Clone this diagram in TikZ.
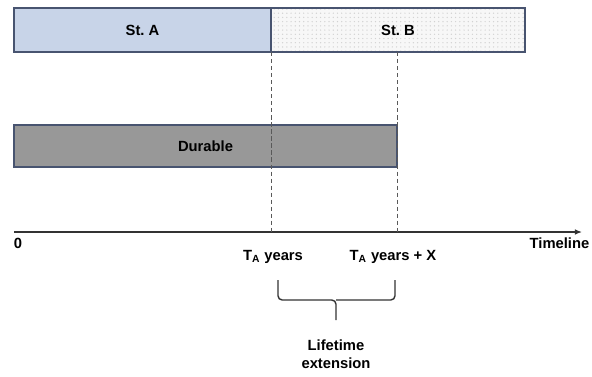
\documentclass[tikz,border=0pt]{standalone}
\usepackage{fontspec}
\setmainfont{Liberation Sans}
\usetikzlibrary{math, patterns, arrows.meta}
\definecolor{stablue}{RGB}{200,212,232}
\definecolor{edgeblue}{RGB}{72,84,112}
\definecolor{durgray}{RGB}{152,152,152}

\begin{document}
\begin{tikzpicture}[x=0.025cm, y=-0.025cm, font=\bfseries\fontsize{10.5}{12.5}\selectfont]
\tikzmath{
\xa=14;
\xt=271;
\xx=397;
\xb=525;
\xe=582;
\ya=8;
\yb=52;
\yd=125;
\ye=167;
\yax=232;
\yl=257;
}
\useasboundingbox (0,0) rectangle (592,376);
%stages
\draw[edgeblue, line width=1.1pt, fill=stablue] (\xa,\ya) rectangle (\xt,\yb);
\fill[gray!6] (\xt,\ya) rectangle (\xb,\yb);
\draw[edgeblue, line width=1.1pt, pattern=dots, pattern color=gray!35] (\xt,\ya) rectangle (\xb,\yb);
\node (sta) at ({(\xa+\xt)/2},{(\ya+\yb)/2}) {St.\ A};
\node (stb) at ({(\xt+\xb)/2},{(\ya+\yb)/2}) {St.\ B};
%durable
\draw[edgeblue, line width=1.1pt, fill=durgray] (\xa,\yd) rectangle (\xx,\ye);
\node (dur) at ({(\xa+\xx)/2},{(\yd+\ye)/2}) {Durable};

%axis
\coordinate (o) at (\xa,\yax);
\coordinate (end) at (\xe,\yax);
\draw[-{Latex[length=5pt,width=4pt]}, line width=0.9pt, black!80] (o) -- (end);
\node[anchor=north west] (zero) at (\xa-5,\yax+1) {0};
\node[anchor=north east, inner sep=1pt] (tl) at (591,\yax+4) {Timeline};

%dashed guides
\coordinate (ta) at (\xt,\yb);
\coordinate (tx) at (\xx,\yb);
\coordinate (tab) at (\xt,\yax);
\coordinate (txb) at (\xx,\yax);
\draw[dashed, dash pattern=on 3pt off 2pt, gray!70!black, line width=0.5pt] (ta) -- (tab);
\draw[dashed, dash pattern=on 3pt off 2pt, gray!70!black, line width=0.5pt] (tx) -- (txb);
\node (lta) at (\xt+2,\yl) {T\textsubscript{A} years};
\node (ltx) at (\xx-4,\yl) {T\textsubscript{A} years + X};

%brace
\coordinate (bl) at (278,280);
\coordinate (br) at (395,280);
\coordinate (bm) at (336,300);
\coordinate (bt) at (336,320);
\draw[black!80, line width=1pt, rounded corners=3pt] (bl) |- (bm) -- (bt);
\draw[black!80, line width=1pt, rounded corners=3pt] (br) |- (bm);
\node[align=center] (ext) at (336,354) {Lifetime\\extension};
\end{tikzpicture}
\end{document}
